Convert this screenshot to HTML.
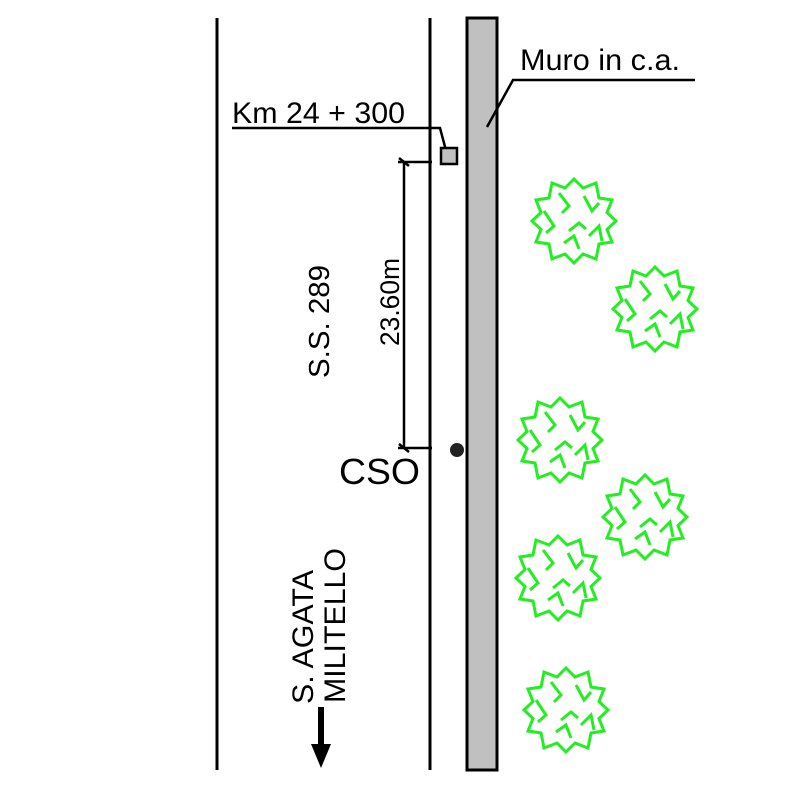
<!DOCTYPE html>
<html><head><style>body{margin:0;background:#fff}svg{display:block}</style></head><body>
<svg width="788" height="788" viewBox="0 0 788 788" xmlns="http://www.w3.org/2000/svg" font-family="Liberation Sans, Arial, sans-serif">
<defs>
<g id="tree" fill="none" stroke="#22ee22" stroke-width="3" stroke-linejoin="miter">
<path d="M42,0 L33,8.5 L38,21 L25,23 L22,38 L9,33 L0,42 L-9,33 L-22,38 L-25,23 L-38,21 L-33,8.5 L-42,0 L-33,-8.5 L-38,-21 L-25,-23 L-22,-38 L-9,-33 L0,-42 L9,-33 L22,-38 L25,-23 L38,-21 L33,-8.5 Z"/>
<path d="M-30,-10 L-20,5 L-28,12 M-15,-28 L-5,-15 L-12,-8 M10,-25 L18,-10 L25,-18 M-5,10 L5,2 L12,8 M-10,22 L0,15 L5,28 M15,15 L25,5 L28,20"/>
</g>
</defs>
<line x1="217" y1="18" x2="217" y2="770" stroke="#000" stroke-width="3"/>
<line x1="430" y1="18" x2="430" y2="770" stroke="#000" stroke-width="3"/>
<rect x="467" y="18" width="30" height="752" fill="#c0c0c0" stroke="#000" stroke-width="3"/>
<text x="520" y="70" font-size="30" textLength="160" lengthAdjust="spacingAndGlyphs">Muro in c.a.</text>
<polyline points="695,80 513,80 487,127" fill="none" stroke="#000" stroke-width="2.5"/>
<text x="232" y="123" font-size="30" textLength="173" lengthAdjust="spacingAndGlyphs">Km 24 + 300</text>
<polyline points="232,128 440,128 448,158" fill="none" stroke="#000" stroke-width="2.5"/>
<rect x="441" y="148" width="16" height="16" fill="#c0c0c0" stroke="#000" stroke-width="2.5"/>
<line x1="404" y1="162" x2="404" y2="448" stroke="#000" stroke-width="2.5"/>
<line x1="398" y1="162" x2="432" y2="162" stroke="#000" stroke-width="2.5"/>
<line x1="398" y1="448" x2="432" y2="448" stroke="#000" stroke-width="2.5"/>
<line x1="399" y1="158" x2="409" y2="166" stroke="#000" stroke-width="2.5"/>
<line x1="399" y1="444" x2="409" y2="452" stroke="#000" stroke-width="2.5"/>
<text transform="translate(399,346) rotate(-90)" font-size="27" textLength="88" lengthAdjust="spacingAndGlyphs">23.60m</text>
<text transform="translate(329,378) rotate(-90)" font-size="29" textLength="113" lengthAdjust="spacingAndGlyphs">S.S. 289</text>
<text x="339" y="484" font-size="36" textLength="81" lengthAdjust="spacingAndGlyphs">CSO</text>
<circle cx="457" cy="450" r="7" fill="#222"/>
<text transform="translate(313,704) rotate(-90)" font-size="30" textLength="134" lengthAdjust="spacingAndGlyphs">S. AGATA</text>
<text transform="translate(345,703) rotate(-90)" font-size="30" textLength="155" lengthAdjust="spacingAndGlyphs">MILITELLO</text>
<rect x="318" y="707" width="6" height="40" fill="#000"/>
<polygon points="311,744 331,744 321,768" fill="#000"/>
<use href="#tree" transform="translate(574,221)"/>
<use href="#tree" transform="translate(655,309)"/>
<use href="#tree" transform="translate(560,440)"/>
<use href="#tree" transform="translate(645,517)"/>
<use href="#tree" transform="translate(558,578)"/>
<use href="#tree" transform="translate(566,710)"/>
</svg>
</body></html>
